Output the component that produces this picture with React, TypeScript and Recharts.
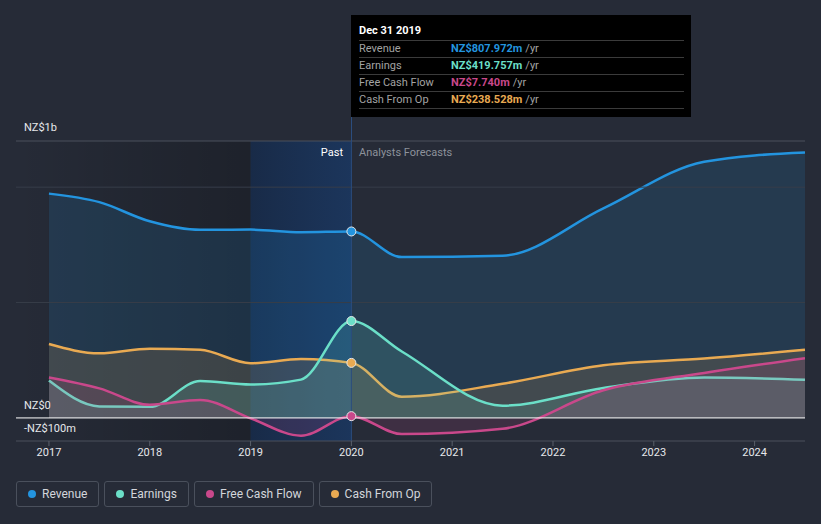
import {
  ComposedChart, Area, XAxis, YAxis, ReferenceLine, ReferenceArea, ReferenceDot,
} from 'recharts'

// fiscal dates as decimal years (past: half-yearly, forecasts: June year-ends)
const years    = [2017, 2017.5, 2018, 2018.5, 2019, 2019.5, 2020, 2020.5, 2021.5, 2022.5, 2023.5, 2024.5]
const revenue  = [972, 935, 852, 815, 816, 805, 807.972, 697, 703, 908, 1110, 1150]
const earnings = [162, 50, 48, 160, 145, 166, 419.757, 288, 53, 130, 175, 165]
const freeCash = [175, 128, 57, 78, -2, -77, 7.74, -70, -47, 120, 195, 259]
const cashOp   = [320, 280, 300, 295, 237, 255, 238.528, 92, 148, 228, 257, 295]

const tickYears = [2017, 2018, 2019, 2020, 2021, 2022, 2023, 2024]
const NOW = 2020
const NOW_LABEL = 'Dec 31 2019'

const series = [
  { key: 'revenue',  name: 'Revenue',        color: '#2394df', values: revenue },
  { key: 'cashOp',   name: 'Cash From Op',   color: '#e9aa52', values: cashOp },
  { key: 'earnings', name: 'Earnings',       color: '#6bdfc8', values: earnings },
  { key: 'freeCash', name: 'Free Cash Flow', color: '#c9488b', values: freeCash },
]
const legendOrder = ['revenue', 'earnings', 'freeCash', 'cashOp']

const rows = years.map((year, i) => ({
  year,
  revenue: revenue[i],
  earnings: earnings[i],
  freeCash: freeCash[i],
  cashOp: cashOp[i],
}))

const nowIndex = years.indexOf(NOW)

function fmt(v: number) {
  return 'NZ$' + v.toFixed(3) + 'm'
}

function NowTooltip() {
  const order = ['revenue', 'earnings', 'freeCash', 'cashOp']
  return (
    <div style={{
      position: 'absolute', left: 351, top: 15, width: 340, height: 102,
      background: '#000', fontSize: 11, boxSizing: 'border-box', padding: '0 7px 0 8px',
    }}>
      <div style={{ height: 25, lineHeight: '32px', color: '#fff', fontWeight: 700 }}>{NOW_LABEL}</div>
      {order.map(k => {
        const s = series.find(x => x.key === k)!
        return (
          <div key={k} style={{
            borderTop: '1px solid #3b3b3b', height: 16, lineHeight: '16px', display: 'flex',
          }}>
            <span style={{ width: 92, color: '#a3a3a3' }}>{s.name}</span>
            <span style={{ color: s.color, fontWeight: 700 }}>{fmt(s.values[nowIndex])}</span>
            <span style={{ color: '#a3a3a3', marginLeft: 3 }}>/yr</span>
          </div>
        )
      })}
      <div style={{ borderTop: '1px solid #3b3b3b' }} />
    </div>
  )
}

function ChartLegend() {
  return (
    <div style={{ position: 'absolute', left: 16, top: 481, display: 'flex', gap: 5 }}>
      {legendOrder.map(k => {
        const s = series.find(x => x.key === k)!
        return (
          <div key={k} style={{
            height: 26, boxSizing: 'border-box', border: '1px solid #4a505c', borderRadius: 3,
            display: 'flex', alignItems: 'center', padding: '0 11px 0 11px', gap: 6,
            color: '#d3d6db', fontSize: 12,
          }}>
            <span style={{ width: 8, height: 8, borderRadius: '50%', background: s.color }} />
            <span>{s.name}</span>
          </div>
        )
      })}
    </div>
  )
}

const labelStyle = { position: 'absolute' as const, left: 24, fontSize: 11, color: '#e6e8eb' }

export default function App() {
  return (
    <div style={{
      position: 'fixed', left: 0, top: 0, width: 821, height: 524,
      background: '#262b37', fontFamily: 'Roboto, sans-serif', overflow: 'hidden',
    }}>
      <ComposedChart width={821} height={470} data={rows} margin={{ top: 141, right: 16, bottom: 0, left: 16 }}>
        <defs>
          <linearGradient id="pastShade" x1="0" y1="0" x2="1" y2="0">
            <stop offset="0%" stopColor="#000" stopOpacity={0} />
            <stop offset="100%" stopColor="#000" stopOpacity={0.22} />
          </linearGradient>
          <linearGradient id="lastYear" x1="0" y1="0" x2="1" y2="0">
            <stop offset="0%" stopColor="#0d2a55" stopOpacity={0.55} />
            <stop offset="100%" stopColor="#114080" stopOpacity={0.5} />
          </linearGradient>
        </defs>
        <XAxis
          dataKey="year" type="number" domain={[2016.673, 2024.5]} ticks={tickYears}
          allowDataOverflow height={29}
          axisLine={{ stroke: '#4a505c' }} tickLine={{ stroke: '#5a606b' }} tickSize={5}
          tick={{ fill: '#e6e8eb', fontSize: 11 }}
        />
        <YAxis hide type="number" domain={[-100, 1200]} allowDataOverflow />
        <ReferenceArea x1={2016.673} x2={2019} fill="url(#pastShade)" fillOpacity={1} ifOverflow="hidden" />
        <ReferenceArea x1={2019} x2={NOW} fill="url(#lastYear)" fillOpacity={1} ifOverflow="hidden" />
        <ReferenceLine y={1200} stroke="#4a505c" />
        <ReferenceLine y={1000} stroke="#373d49" />
        <ReferenceLine y={500} stroke="#373d49" />
        <ReferenceLine x={NOW} stroke="#2b4d7e" />
        {series.map(s => (
          <Area
            key={s.key}
            type="monotone"
            dataKey={s.key}
            name={s.name}
            stroke={s.color}
            strokeWidth={2.5}
            fill={s.color}
            fillOpacity={0.15}
            dot={false}
            activeDot={false}
            isAnimationActive={false}
          />
        ))}
        <ReferenceLine y={0} stroke="#ffffff" strokeWidth={1} />
        {series.map(s => (
          <ReferenceDot
            key={s.key + '-dot'}
            x={NOW}
            y={s.values[nowIndex]}
            r={4.5}
            fill={s.color}
            stroke="#e8e8e8"
            strokeWidth={1}
          />
        ))}
      </ComposedChart>

      <div style={{ position: 'absolute', left: 351, top: 117, width: 1, height: 24, background: '#2b4d7e' }} />
      <div style={{ ...labelStyle, top: 121 }}>NZ$1b</div>
      <div style={{ ...labelStyle, top: 399 }}>NZ$0</div>
      <div style={{ ...labelStyle, top: 422 }}>-NZ$100m</div>
      <div style={{ position: 'absolute', right: 821 - 343, top: 146, fontSize: 11, color: '#fff' }}>Past</div>
      <div style={{ position: 'absolute', left: 359, top: 146, fontSize: 11, color: '#8d929b' }}>Analysts Forecasts</div>

      <NowTooltip />
      <ChartLegend />
    </div>
  )
}
